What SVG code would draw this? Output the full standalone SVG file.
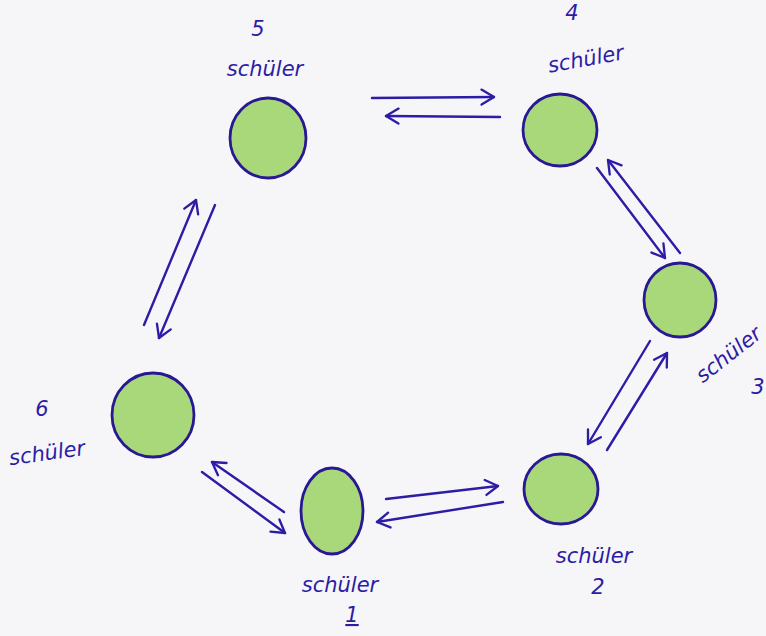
<svg xmlns="http://www.w3.org/2000/svg" width="766" height="636" viewBox="0 0 766 636">
  <defs>
    <marker id="head" viewBox="0 0 24 24" refX="19" refY="12" markerWidth="20" markerHeight="20" markerUnits="userSpaceOnUse" orient="auto">
      <path d="M4,3 L19,12 L4,21" fill="none" stroke="#2c1ca6" stroke-width="2.8" stroke-linecap="round" stroke-linejoin="round"/>
    </marker>
  </defs>
  <style>
    .node ellipse { fill: #a9d87b; stroke: #281893; stroke-width: 2.8; }
    .link { fill: none; stroke: #2c1ca6; stroke-width: 2.4; stroke-linecap: round; marker-end: url(#head); }
    .lbl { font-family: "DejaVu Sans", "Liberation Sans", sans-serif; font-style: italic; font-size: 21px; fill: #2c1ca6; text-anchor: middle; }
  </style>
  <rect width="766" height="636" fill="#f6f6f8"/>

  <g id="node-5" class="node">
    <ellipse cx="268" cy="138" rx="38" ry="40"/>
    <text class="lbl" x="258" y="36">5</text>
    <text class="lbl" x="265" y="76">schüler</text>
  </g>
  <g id="node-4" class="node">
    <ellipse cx="560" cy="130" rx="37" ry="36"/>
    <text class="lbl" x="572" y="20">4</text>
    <text class="lbl" x="587" y="66" transform="rotate(-10 587 66)">schüler</text>
  </g>
  <g id="node-3" class="node">
    <ellipse cx="680" cy="300" rx="36" ry="37"/>
    <text class="lbl" x="733" y="360" transform="rotate(-38 733 360)">schüler</text>
    <text class="lbl" x="758" y="394">3</text>
  </g>
  <g id="node-2" class="node">
    <ellipse cx="561" cy="489" rx="37" ry="35"/>
    <text class="lbl" x="594" y="563">schüler</text>
    <text class="lbl" x="598" y="594">2</text>
  </g>
  <g id="node-1" class="node">
    <ellipse cx="332" cy="511" rx="31" ry="43"/>
    <text class="lbl" x="340" y="592">schüler</text>
    <text class="lbl" x="352" y="622" text-decoration="underline">1</text>
  </g>
  <g id="node-6" class="node">
    <ellipse cx="153" cy="415" rx="41" ry="42"/>
    <text class="lbl" x="42" y="416">6</text>
    <text class="lbl" x="48" y="460" transform="rotate(-8 48 460)">schüler</text>
  </g>

  <g id="connectors">
    <!-- 5 <-> 4 -->
    <line class="link" x1="372" y1="98" x2="494" y2="97"/>
    <line class="link" x1="500" y1="117" x2="386" y2="116"/>
    <!-- 4 <-> 3 -->
    <line class="link" x1="597" y1="168" x2="665" y2="258"/>
    <line class="link" x1="680" y1="253" x2="608" y2="160"/>
    <!-- 3 <-> 2 -->
    <line class="link" x1="650" y1="341" x2="588" y2="444"/>
    <line class="link" x1="607" y1="450" x2="667" y2="353"/>
    <!-- 2 <-> 1 -->
    <line class="link" x1="386" y1="499" x2="498" y2="486"/>
    <line class="link" x1="503" y1="502" x2="377" y2="522"/>
    <!-- 1 <-> 6 -->
    <line class="link" x1="284" y1="512" x2="212" y2="462"/>
    <line class="link" x1="202" y1="472" x2="285" y2="533"/>
    <!-- 6 <-> 5 -->
    <line class="link" x1="144" y1="325" x2="196" y2="200"/>
    <line class="link" x1="215" y1="205" x2="159" y2="338"/>
  </g>
</svg>
